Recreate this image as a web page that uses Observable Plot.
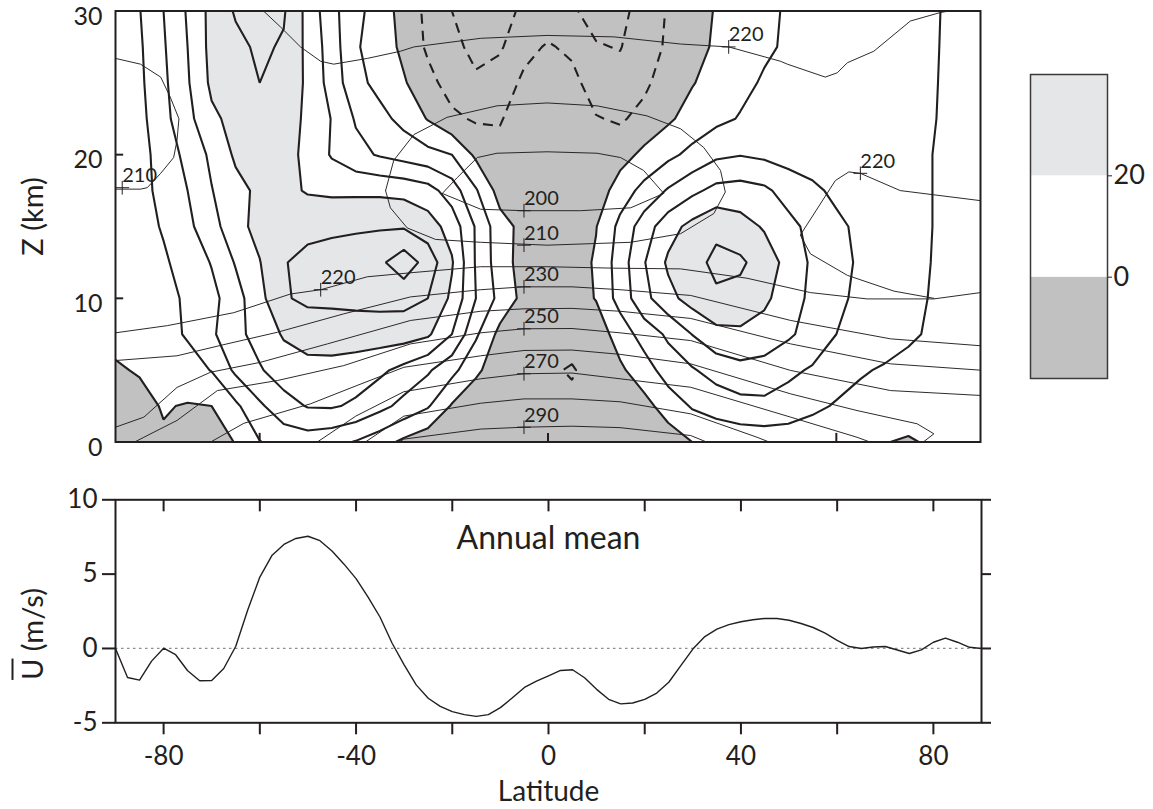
<!DOCTYPE html>
<html><head><meta charset="utf-8">
<script src="https://cdn.jsdelivr.net/npm/d3@7"></script>
<script src="https://cdn.jsdelivr.net/npm/@observablehq/plot@0.6"></script>
<style>
html,body{margin:0;padding:0;background:#fff}
#wrap{position:relative;width:1153px;height:809px;overflow:hidden;font-family:Lato,"Open Sans",sans-serif;color:#231f20}
#wrap svg{position:absolute;overflow:visible;max-width:none}
#ulabel{position:absolute;font-size:29px;white-space:nowrap;left:31px;top:634px;transform:translate(-50%,-50%) rotate(-90deg);line-height:1}
#ulabel .bar{text-decoration:overline}
</style></head><body><div id="wrap"><div id="ulabel"><span class="bar">U</span> (m/s)</div></div>
<script>
// ---------------- data ----------------
const latGrid = [-90,-85,-80,-75,-70,-65,-60,-55,-50,-45,-40,-35,-30,-25,-20,-15,-10,-5,0,5,10,15,20,25,30,35,40,45,50,55,60,65,70,75,80,85,90];
const zGrid = [0,2.5,5,7.5,10,12.5,15,17.5,20,22.5,25,27.5,30];
// zonal wind (m/s), one row per height
const uAt0km    = [-1.0,-2.1,-0.5,-1.5,-2.2,0.2,4.8,7.0,7.5,6.5,4.7,2.1,-1.1,-3.4,-4.3,-4.9,-4.5,-2.6,-1.9,-1.4,-2.8,-3.7,-3.4,-2.3,0.0,1.3,1.8,2.0,1.9,1.4,0.6,0.0,0.1,-0.3,0.4,0.4,0.0];
const uAt2_5km  = [-3.0,-1.2,0.3,-0.3,0.0,4.0,9.2,13.0,15.3,15.5,14.2,11.5,8.5,5.5,-0.5,-3.5,-4.7,-4.5,-4.0,-4.2,-3.5,-2.5,-1.5,2.0,5.5,7.0,8.3,8.8,8.0,6.2,4.5,3.5,2.5,1.5,1.5,1.0,0.5];
const uAt5km    = [-0.4,0.3,1.5,3.0,5.2,11.0,14.5,17.5,18.5,18.3,17.5,16.0,13.5,10.7,6.5,1.0,-3.0,-4.5,-4.5,-5.3,-3.5,-0.8,2.5,7.5,9.5,12.0,13.5,13.0,11.0,9.5,7.5,5.5,4.5,3.5,2.5,2.0,1.5];
const uAt7_5km  = [1.0,2.0,3.3,5.5,9.2,13.5,17.0,20.5,22.0,22.5,22.5,22.5,22.3,20.8,15.0,5.8,-1.5,-3.0,-3.5,-3.5,-2.5,2.0,7.3,10.8,15.1,18.5,19.0,18.0,15.8,13.0,10.0,8.5,7.3,5.8,4.3,3.2,2.5];
const uAt10km   = [2.0,3.0,4.0,5.5,8.5,13.0,18.5,24.5,26.0,26.0,26.3,26.5,26.5,25.0,19.0,10.0,3.5,-1.5,-2.5,-2.0,0.2,7.0,13.5,18.5,22.0,24.3,23.5,21.0,17.5,13.8,11.0,9.0,7.6,6.2,4.7,3.5,2.5];
const uAt12_5km = [1.5,2.8,4.4,6.8,10.3,15.4,19.8,24.8,26.0,26.5,27.0,29.0,33.0,28.0,20.5,9.5,2.3,-2.0,-2.5,-2.5,0.6,7.4,14.7,20.8,23.5,26.0,25.8,22.8,18.3,14.2,11.4,9.4,7.8,6.3,4.9,3.5,2.5];
const uAt15km   = [1.5,3.3,5.4,8.9,13.0,18.4,21.5,23.2,24.0,24.3,24.5,24.5,24.5,22.3,18.0,9.5,2.0,-1.5,-2.0,-1.5,-0.2,6.3,12.5,18.0,21.5,24.0,22.0,19.5,16.5,13.5,11.0,9.0,7.7,6.4,5.0,4.0,3.0];
const uAt17_5km = [1.0,3.5,6.3,10.0,14.8,18.5,21.0,21.5,19.5,19.0,19.0,19.0,18.5,17.0,12.5,5.5,-2.0,-3.0,-2.5,-3.0,-3.0,2.5,6.5,10.5,13.8,16.5,17.0,16.0,13.0,11.0,9.0,8.0,7.0,6.0,5.0,4.0,3.0];
const uAt20km   = [0.8,3.3,7.0,11.5,16.0,20.8,22.0,21.5,19.0,14.5,11.5,9.5,8.0,6.5,5.0,-1.0,-3.8,-3.5,-3.0,-3.5,-4.0,-2.0,1.2,3.8,6.3,9.0,9.8,9.0,8.0,7.5,7.0,6.8,6.5,6.0,5.0,4.0,3.0];
const uAt22_5km = [1.0,3.5,8.5,13.5,19.0,21.5,23.0,22.5,19.0,14.8,9.5,6.5,3.5,-0.3,-4.0,-5.6,-5.3,-3.0,-1.5,-2.5,-4.7,-5.6,-3.5,-0.8,2.0,3.8,5.3,6.0,6.5,6.6,6.6,6.5,6.3,6.0,5.2,4.0,3.0];
const uAt25km   = [1.0,4.0,9.0,14.5,21.0,23.0,25.0,24.0,19.0,13.0,6.5,3.5,0.5,-3.5,-7.0,-9.3,-7.8,-4.0,-2.0,-3.5,-7.5,-8.5,-6.0,-2.5,-0.3,2.0,3.8,5.5,6.2,6.6,7.0,7.0,6.8,6.2,5.3,4.0,3.0];
const uAt27_5km = [0.5,4.3,9.5,15.0,21.5,23.8,25.8,24.5,18.8,12.5,5.5,2.8,-1.2,-5.8,-8.8,-11.2,-10.6,-6.5,-4.5,-6.0,-9.7,-10.2,-7.5,-4.2,-2.0,0.8,2.5,4.3,5.6,6.3,7.0,7.3,7.0,6.4,5.4,4.0,3.0];
const uAt30km   = [0.5,4.8,10.0,15.5,21.5,25.5,27.0,25.5,18.5,11.5,6.5,2.5,-1.8,-6.2,-10.0,-11.5,-11.0,-9.5,-8.0,-9.5,-11.5,-11.0,-8.5,-4.5,-2.5,0.4,2.0,4.0,5.5,6.5,7.5,8.0,7.5,6.8,5.5,4.0,3.0];
const uLevelsSolid = [0,5,10,15,20,25,30];
const uLevelsDashed = [-10,-5];
const shadeBreaks = [0,20];

// temperature contours (K): [lat, z] points
const t200 = [[-22,17.3],[-18.9,18.4],[-14.7,19.8],[-10.6,20.1],[-0.2,20.2],[10.2,20.1],[15.1,19.8],[19.9,18.9],[24.1,17.3],[17.2,16.3],[6.8,16.1],[-5,16.1],[-14,16.2],[-22,17.3]];
const t210Ring = [[-33.8,17.5],[-32.1,19.6],[-27.9,21.4],[-21,22.6],[-10.6,23.4],[-0.2,23.6],[10.2,23.4],[20.6,22.7],[27.6,21.8],[32.4,20.5],[35.9,18.9],[36.9,17.4],[34.5,15.9],[27.6,14.5],[17.2,13.9],[-0.2,13.7],[-14,13.9],[-23.4,14.1],[-29.3,14.9],[-32.8,16.3],[-33.8,17.5]];
const t210South = [[-90,26.7],[-84.8,26.3],[-80.6,25.4],[-78.6,24.0],[-76.8,22.5],[-77.2,21.0],[-77.9,19.8],[-80.6,18.7],[-83.4,17.7],[-84.8,17.6],[-90,17.6]];
const t220Upper = [[-59.2,30],[-55.7,28.9],[-51.5,27.5],[-47.3,26.5],[-44.6,26.3],[-37.6,26.7],[-30.7,27.2],[-27.9,27.5],[-14,28.1],[-0.2,28.3],[13.7,28.2],[27.6,27.7],[37.6,27.5],[48.4,26.5],[49.8,26.3],[57.7,25.4],[60.2,25.7],[62.3,26.4],[67.8,27.2],[75.4,29.3],[81.7,29.9],[83.5,30]];
const t220Arctic = [[90,16.8],[73.3,17.5],[65,18.7],[62.6,18.8],[59.8,18.2],[52.5,14.4],[54.6,13.1],[62.3,11.6],[72,10.5],[80.3,10.0]];
const t220 = [[-90,7.6],[-79.2,8.1],[-65.4,9.0],[-53.6,10.3],[-47.3,10.6],[-37.6,11.5],[-27.9,11.8],[-14,12.2],[-0.2,12.2],[13.7,12.1],[27.6,12.05],[41.4,11.4],[54.6,10.4],[66.4,9.96],[80.3,9.96],[90,10.4]];
const t230 = [[-90,5.67],[-77.2,6.0],[-66.8,6.83],[-56.3,7.64],[-42.5,8.92],[-28.6,10.1],[-14,10.6],[-5,10.8],[5,10.8],[15,10.6],[29.7,10.2],[50.5,8.46],[71.3,7.18],[90,6.7]];
const t240 = [[-90,1.03],[-84.1,1.73],[-77.2,3.8],[-70.2,4.86],[-59.8,5.55],[-45.9,6.83],[-28.6,8.46],[-14,9.1],[-5,9.27],[5,9.3],[15,9.1],[29.7,8.6],[50.5,6.83],[71.3,5.44],[90,5.0]];
const t250 = [[-86,0],[-84.1,0.33],[-77.2,1.5],[-68.8,3.58],[-56.3,4.28],[-42.5,5.32],[-28.6,6.83],[-14,7.6],[-5,7.88],[5,7.9],[15,7.6],[29.7,7.06],[50.5,4.98],[71.3,3.58],[90,3.24]];
const t260 = [[-70.2,0],[-63.3,1.3],[-49.4,2.66],[-40,3.9],[-30,5.2],[-14,6.0],[-5,6.37],[5,6.4],[15,6.1],[29.7,5.44],[50.5,3.35],[64.3,2.19],[76.8,1.27],[80.3,0.57],[78.1,0]];
const t270 = [[-48,0],[-40,1.8],[-30,3.5],[-14,4.4],[-5,4.75],[5,4.8],[15,4.4],[29.7,3.81],[50.5,1.73],[64.3,0.33],[67,0]];
const t280 = [[-38,0],[-30,1.8],[-14,2.7],[-5,3.0],[5,3.0],[15,2.8],[29.7,1.96],[43.5,0.33],[46,0]];
const t290 = [[-31,0],[-30,0.2],[-14,0.9],[-5,1.03],[5,1.1],[15,1.0],[29.7,0.45],[33,0]];
const tempLabels = [
  {lat:-88.6, z:17.7, label:"210"}, {lat:-47.3, z:10.6, label:"220"},
  {lat:-5, z:16.1, label:"200"}, {lat:-5, z:13.7, label:"210"}, {lat:-5, z:10.8, label:"230"},
  {lat:-5, z:7.88, label:"250"}, {lat:-5, z:4.75, label:"270"}, {lat:-5, z:1.03, label:"290"},
  {lat:37.6, z:27.5, label:"220"}, {lat:65, z:18.7, label:"220"}
];

// annual-mean surface wind (bottom panel)
const annualLat = [-90,-87.5,-85,-82.5,-80,-77.5,-75,-72.5,-70,-67.5,-65,-62.5,-60,-57.5,-55,-52.5,-50,-47.5,-45,-42.5,-40,-37.5,-35,-32.5,-30,-27.5,-25,-22.5,-20,-17.5,-15,-12.5,-10,-7.5,-5,-2.5,0,2.5,5,7.5,10,12.5,15,17.5,20,22.5,25,27.5,30,32.5,35,37.5,40,42.5,45,47.5,50,52.5,55,57.5,60,62.5,65,67.5,70,72.5,75,77.5,80,82.5,85,87.5,90];
const annualU = [0,-1.95,-2.13,-0.85,0.02,-0.42,-1.5,-2.17,-2.15,-1.35,0.15,2.6,4.8,6.25,7.0,7.4,7.55,7.25,6.55,5.67,4.7,3.45,2.1,0.35,-1.1,-2.45,-3.35,-3.9,-4.25,-4.45,-4.57,-4.45,-3.98,-3.32,-2.62,-2.2,-1.85,-1.48,-1.43,-1.97,-2.75,-3.42,-3.73,-3.67,-3.42,-3.0,-2.27,-1.16,-0.04,0.8,1.3,1.6,1.8,1.93,2.02,2.02,1.9,1.68,1.41,1.03,0.55,0.13,0.0,0.1,0.13,-0.1,-0.34,-0.09,0.42,0.7,0.42,0.08,0];

const zTicks = [0,10,20,30];
const zInnerTicks = [10,20];
const latInnerTicksTop = [-60,0,60];
const latTicks = [-80,-60,-40,-20,0,20,40,60,80];
const latLabels = [-80,-40,0,40,80];
const uTicks = [-5,0,5,10];
const legendBands = [{from:-20,to:0},{from:0,to:20},{from:20,to:40}];
const legendTicks = [0,20];

// ---------------- drawing ----------------
const INK = "#231f20", DARK = "#c1c1c1", LIGHT = "#e5e6e8";
const FONT = "Lato, 'Open Sans', sans-serif";
const wrap = document.getElementById("wrap");

const uGrid = [uAt0km,uAt2_5km,uAt5km,uAt7_5km,uAt10km,uAt12_5km,uAt15km,uAt17_5km,uAt20km,uAt22_5km,uAt25km,uAt27_5km,uAt30km].flat();
const dLat = latGrid[1]-latGrid[0], dZ = zGrid[1]-zGrid[0];
const grid = {width: latGrid.length, height: zGrid.length,
  x1: latGrid[0]-dLat/2, x2: latGrid[latGrid.length-1]+dLat/2,
  y1: zGrid[0]-dZ/2, y2: zGrid[zGrid.length-1]+dZ/2,
  value: Plot.identity, clip: true};

const tempSets = [t200,t210Ring,t210South,t220Upper,t220Arctic,t220,t230,t240,t250,t260,t270,t280,t290];
const tempData = tempSets.flatMap((pts,i) => pts.map(([lat,z]) => ({line:i, lat, z})));

const topChart = Plot.plot({
  width: 1010, height: 455, marginLeft: 115, marginRight: 30, marginTop: 10.5, marginBottom: 13.5,
  x: {domain: [-90, 90], axis: null},
  y: {domain: [0, 30], axis: null},
  style: {fontFamily: FONT, color: INK, background: "transparent"},
  marks: [
    Plot.frame({fill: DARK, stroke: "none"}),
    Plot.contour(uGrid, {...grid, thresholds: [shadeBreaks[0]], fill: "white", stroke: "none"}),
    Plot.contour(uGrid, {...grid, thresholds: [shadeBreaks[1]], fill: LIGHT, stroke: "none"}),
    Plot.line(tempData, {x: "lat", y: "z", z: "line", stroke: INK, strokeWidth: 0.95, clip: true}),
    Plot.contour(uGrid, {...grid, thresholds: uLevelsSolid, fill: "none", stroke: INK, strokeWidth: 2.1}),
    Plot.contour(uGrid, {...grid, thresholds: uLevelsDashed, fill: "none", stroke: INK, strokeWidth: 2.1, strokeDasharray: "10,7"}),
    Plot.dot(tempLabels, {x: "lat", y: "z", symbol: "plus", r: 4.5, stroke: INK, strokeWidth: 1}),
    Plot.text(tempLabels, {x: "lat", y: "z", text: "label", textAnchor: "start", dx: 0, dy: -12, fontSize: 20, fill: INK}),
    Plot.ruleY(zInnerTicks, {x1: -90, x2: -88.3, stroke: INK, strokeWidth: 2}),
    Plot.ruleX(latInnerTicksTop, {y1: 0, y2: 0.6, stroke: INK, strokeWidth: 2}),
    Plot.text(zTicks, {x: -90, y: d => d, text: d => String(d), textAnchor: "end", lineAnchor: "bottom", dx: -13, dy: 13.5, fontSize: 25, fill: INK}),
    Plot.text(["Z (km)"], {x: -90, y: 15.7, dx: -82, rotate: -90, fontSize: 29, fill: INK}),
    Plot.frame({stroke: INK, strokeWidth: 2})
  ]
});
topChart.style.left = "0px"; topChart.style.top = "0px";
wrap.appendChild(topChart);

const annual = annualLat.map((lat,i) => ({lat, u: annualU[i]}));
const bottomChart = Plot.plot({
  width: 1010, height: 330, marginLeft: 115, marginRight: 29, marginTop: 19.3, marginBottom: 87.7,
  x: {domain: [-90, 90]},
  y: {domain: [-5, 10]},
  style: {fontFamily: FONT, color: INK, background: "transparent"},
  marks: [
    Plot.ruleY([0], {stroke: "#8c8c8c", strokeWidth: 1.3, strokeDasharray: "2.5,3.5"}),
    Plot.line(annual, {x: "lat", y: "u", stroke: INK, strokeWidth: 1.4}),
    Plot.text(["Annual mean"], {x: 0, frameAnchor: "top", lineAnchor: "bottom", dy: 49, fontSize: 32, fill: INK}),
    Plot.text(["Latitude"], {x: 0, frameAnchor: "bottom", lineAnchor: "bottom", dy: 78, fontSize: 28, fill: INK}),
    Plot.ruleX(latTicks, {y1: 10, y2: 9.19, stroke: INK, strokeWidth: 2}),
    Plot.axisX({anchor: "bottom", ticks: latTicks, tickSize: 12, tickPadding: 12, strokeWidth: 2, fontSize: 26,
      tickFormat: d => latLabels.includes(d) ? String(d) : "", label: null, fill: INK}),
    Plot.axisY({anchor: "left", ticks: uTicks, tickSize: 13, tickPadding: 5, strokeWidth: 2, fontSize: 26,
      tickFormat: d => String(d), label: null, fill: INK}),
    Plot.axisY({anchor: "right", ticks: uTicks, tickSize: 9, strokeWidth: 2, tickFormat: () => "", label: null}),
    Plot.frame({stroke: INK, strokeWidth: 2})
  ]
});
bottomChart.style.left = "0px"; bottomChart.style.top = "480px";
wrap.appendChild(bottomChart);

const legend = Plot.plot({
  width: 120, height: 330, marginLeft: 5, marginRight: 38, marginTop: 10, marginBottom: 16,
  x: {domain: [0, 1], axis: null},
  y: {domain: [-20, 40]},
  color: {type: "threshold", domain: shadeBreaks, range: [DARK, "white", LIGHT]},
  style: {fontFamily: FONT, color: INK, background: "transparent"},
  marks: [
    Plot.rect(legendBands, {x1: 0, x2: 1, y1: "from", y2: "to", fill: "from"}),
    Plot.frame({stroke: "#3a3a3a", strokeWidth: 1.5}),
    Plot.axisY({anchor: "right", ticks: legendTicks, tickSize: 4, tickPadding: 2, fontSize: 27, tickFormat: d => String(d), label: null, fill: INK})
  ]
});
legend.style.left = "1025px"; legend.style.top = "64px";
wrap.appendChild(legend);
wrap.appendChild(document.getElementById("ulabel"));
</script></body></html>
